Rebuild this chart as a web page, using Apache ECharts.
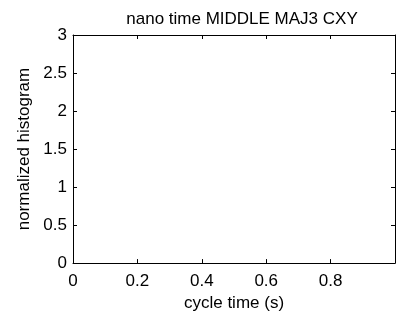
<!DOCTYPE html>
<html>
<head>
<meta charset="utf-8">
<script src="https://cdn.jsdelivr.net/npm/echarts@6/dist/echarts.min.js"></script>
<style>
  html, body { margin: 0; padding: 0; background: #fff; }
  #chart { width: 398px; height: 317px; }
</style>
</head>
<body>
<div id="chart"></div>
<script>
  // empty histogram: no bins recorded
  const cycleTime = []
  const histValues = []
  const xRange = [0, 1]
  const yRange = [0, 3]

  const font = 'Liberation Sans, Arial, Helvetica, sans-serif'
  const chart = echarts.init(document.getElementById('chart'))

  const baseAxis = {
    axisLine: { show: true, onZero: false, lineStyle: { color: '#000', width: 1 } },
    axisTick: { show: true, inside: true, length: 4, lineStyle: { color: '#000' } },
    splitLine: { show: false }
  }

  chart.setOption({
    animation: false,
    title: {
      text: 'nano time MIDDLE MAJ3 CXY',
      left: 237,
      textAlign: 'center',
      top: 6,
      textStyle: { fontFamily: font, fontSize: 17, fontWeight: 'normal', color: '#000' }
    },
    grid: { left: 73, top: 35, width: 328, height: 232 },
    xAxis: [{
      ...baseAxis,
      type: 'value',
      min: xRange[0],
      max: xRange[1],
      interval: 0.2,
      position: 'bottom',
      name: 'cycle time (s)',
      nameLocation: 'middle',
      nameGap: 29,
      nameTextStyle: { fontFamily: font, fontSize: 17, color: '#000' },
      axisLabel: {
        margin: 10, fontFamily: font, fontSize: 17, color: '#000',
        formatter: v => (v >= 1 ? '' : String(+v.toFixed(1)))
      }
    }, {
      ...baseAxis,
      type: 'value',
      min: xRange[0],
      max: xRange[1],
      interval: 0.2,
      position: 'top',
      axisLabel: { show: false }
    }],
    yAxis: [{
      ...baseAxis,
      type: 'value',
      min: yRange[0],
      max: yRange[1],
      interval: 0.5,
      position: 'left',
      name: 'normalized histogram',
      nameLocation: 'middle',
      nameGap: 36,
      nameTextStyle: { fontFamily: font, fontSize: 17, color: '#000' },
      axisLabel: {
        margin: 6, fontFamily: font, fontSize: 17, color: '#000',
        formatter: v => String(v)
      }
    }, {
      ...baseAxis,
      type: 'value',
      min: yRange[0],
      max: yRange[1],
      interval: 0.5,
      position: 'right',
      axisLabel: { show: false }
    }],
    series: [{
      type: 'bar',
      data: cycleTime.map((t, i) => [t, histValues[i]]),
      itemStyle: { color: '#00f' }
    }]
  })
</script>
</body>
</html>
